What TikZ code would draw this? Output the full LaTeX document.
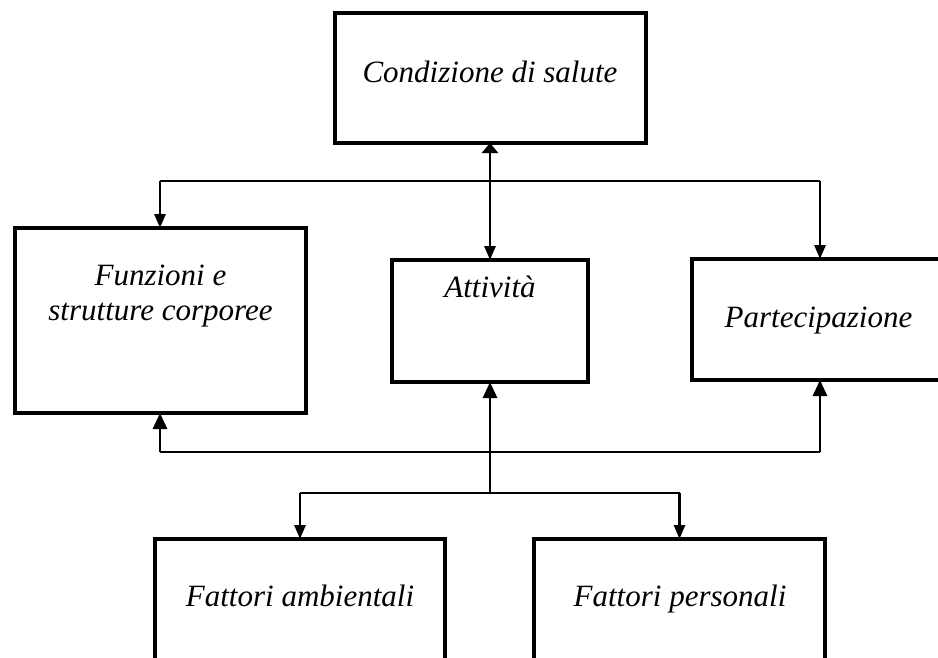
\documentclass[tikz,border=0pt]{standalone}
\usepackage{fontspec}
\setmainfont{Liberation Serif}
\usetikzlibrary{arrows.meta,calc}
\begin{document}
\begin{tikzpicture}[x=1pt,y=-1pt,
  box/.style={draw,line width=3.8pt,rectangle,inner sep=0pt,outer sep=0pt},
  txt/.style={inner sep=0pt,outer sep=0pt,anchor=base,align=center,
    font=\fontsize{31}{35}\selectfont\itshape},
  conn/.style={line width=2.8pt},
  downtip/.style={-{Triangle[length=14pt,width=11pt]}},
  uptip/.style={-{Triangle[length=16pt,width=14pt]}},
  both/.style={{Triangle[length=10pt,width=16pt]}-{Triangle[length=14pt,width=11pt]}}]
\useasboundingbox (0,0) rectangle (938,657);
\clip (0,0) rectangle (938,657);
\fill[white] (0,0) rectangle (938,657);
% boxes
\node[box,line width=3.4pt,minimum width=311pt,minimum height=130pt] (cond) at (490.5,78) {};
\node[box,line width=3.4pt,minimum width=291pt,minimum height=185pt] (funz) at (160.5,320.5) {};
\node[box,line width=4.2pt,minimum width=196pt,minimum height=122pt] (att) at (490,321) {};
\node[box,line width=4.8pt,minimum width=253pt,minimum height=121pt] (part) at (818.5,319.5) {};
\node[box,minimum width=290pt,minimum height=162pt] (fa) at (300,620) {};
\node[box,minimum width=291pt,minimum height=162pt] (fp) at (679.5,620) {};
% texts
\node[txt] (condt) at (490,82) {Condizione di salute};
\node[txt] (funzt) at (160.5,320) {Funzioni e\\strutture corporee};
\node[txt] (attt) at (490,297) {Attività};
\node[txt] (partt) at (818.5,327) {Partecipazione};
\node[txt] (fat) at (300,606) {Fattori ambientali};
\node[txt] (fpt) at (680,606) {Fattori personali};
% connectors
\coordinate (tl) at (160,181);
\coordinate (tr) at (820,181);
\coordinate (bl) at (160,452);
\coordinate (br) at (820,452);
\coordinate (fj) at (490,493);
\draw[conn,both] (cond.south -| att.north) -- (att.north);
\draw[conn] (tl) -- (tr);
\draw[conn,downtip] (tl) -- (tl |- funz.north);
\draw[conn,downtip] (tr) -- (tr |- part.north);
\draw[conn] (bl) -- (br);
\draw[conn,uptip] (bl) -- (bl |- funz.south);
\draw[conn,uptip] (br) -- (br |- part.south);
\draw[conn,uptip] (fj) -- (att.south);
\draw[conn] (fj -| fa.north) -- (fj -| fp.north);
\draw[conn,downtip] (fj -| fa.north) -- (fa.north);
\draw[conn,downtip] (fj -| fp.north) -- (fp.north);
\end{tikzpicture}
\end{document}
